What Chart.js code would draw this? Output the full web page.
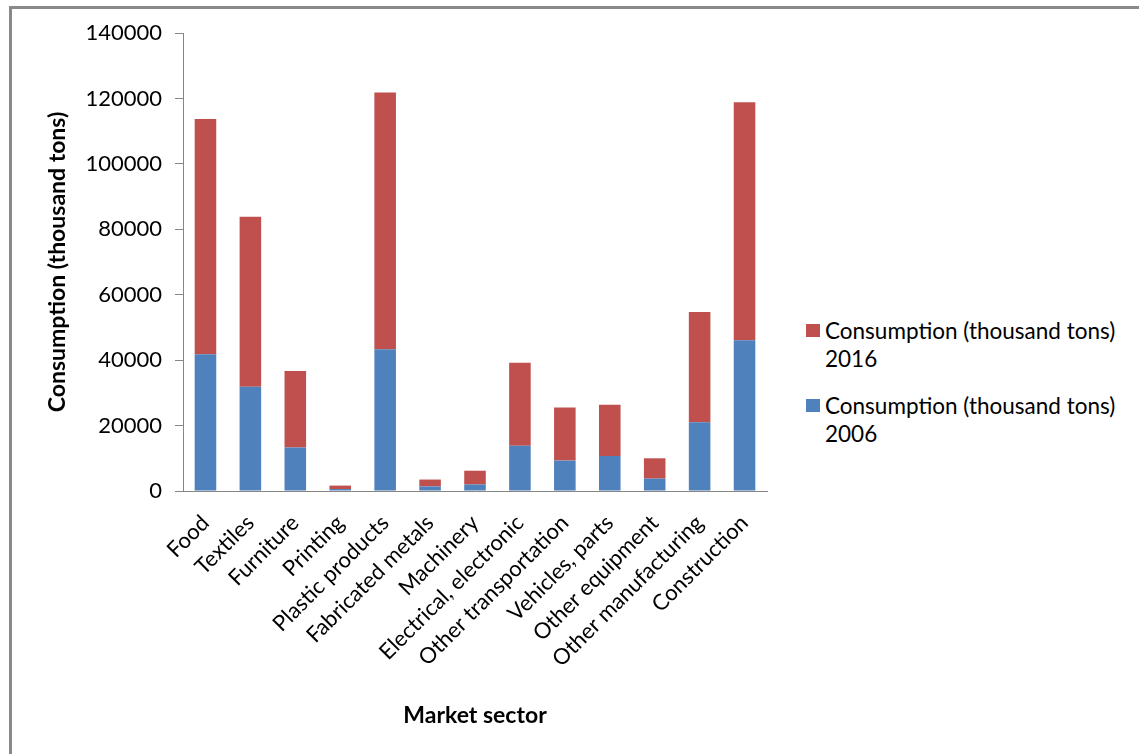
<!DOCTYPE html>
<html>
<head>
<meta charset="utf-8">
<script src="https://cdn.jsdelivr.net/npm/chart.js@4.4.1/dist/chart.umd.min.js"></script>
<style>
  body { margin: 0; background: #fff; overflow: hidden; }
  #frame { position: absolute; left: 9px; top: 6px; width: 1200px; height: 800px; border: 3px solid #898989; }
  #wrap { position: absolute; left: 0; top: 0; width: 800px; height: 754px; }
  .item { position: absolute; left: 806px; font-family: Lato, sans-serif; font-size: 22.5px; line-height: 28px; color: #000; }
  .item span { position: absolute; left: 0; top: 7px; width: 14px; height: 13px; }
  .item div { margin-left: 19px; white-space: nowrap; }
</style>
</head>
<body>
<div id="frame"></div>
<div id="wrap"><canvas id="myChart"></canvas></div>
<div id="legend"></div>
<script>
const sectors = ['Food', 'Textiles', 'Furniture', 'Printing', 'Plastic products', 'Fabricated metals',
  'Machinery', 'Electrical, electronic', 'Other transportation', 'Vehicles, parts',
  'Other equipment', 'Other manufacturing', 'Construction'];
const cons2006 = [41800, 31900, 13300, 600, 43300, 1400, 2000, 13800, 9300, 10700, 3800, 21000, 46100];
const cons2016 = [71900, 51900, 23400, 1050, 78500, 2100, 4200, 25400, 16200, 15700, 6200, 33700, 72700];
const seriesName = 'Consumption (thousand tons)';
const years = ['2006', '2016'];

const blue = '#4F81BD';
const red = '#C0504D';
const axisGray = '#868686';
const font = 'Lato';

// legend (2016 on top like the original)
const legendItems = [
  { year: years[1], color: red, top: 317 },
  { year: years[0], color: blue, top: 392 },
];
document.getElementById('legend').innerHTML = legendItems
  .map((it) => '<div class="item" style="top:' + it.top + 'px"><span style="background:' + it.color +
    '"></span><div>' + seriesName + '<br>' + it.year + '</div></div>')
  .join('');

const data = {
  labels: sectors,
  datasets: [
    { label: seriesName + ' ' + years[0], data: cons2006, backgroundColor: blue },
    { label: seriesName + ' ' + years[1], data: cons2016, backgroundColor: red },
  ],
};

const config = {
  type: 'bar',
  data: data,
  options: {
    responsive: true,
    maintainAspectRatio: false,
    animation: false,
    layout: { padding: { top: 33, right: 33, left: 0, bottom: 0 } },
    datasets: { bar: { barPercentage: 0.48, categoryPercentage: 1, borderWidth: 0 } },
    plugins: { legend: { display: false }, tooltip: { enabled: false } },
    scales: {
      x: {
        stacked: true,
        grid: { display: false, drawTicks: false },
        border: { display: true, color: axisGray, width: 1 },
        ticks: { color: '#000', font: { family: font, size: 22 }, minRotation: 45, maxRotation: 45, padding: 19, autoSkip: false },
        title: { display: true, text: 'Market sector', color: '#000', font: { family: font, size: 23, weight: 'bold' }, padding: { top: 0, bottom: 25 } },
        afterFit: (scale) => { scale.height = 263; },
      },
      y: {
        stacked: true,
        min: 0,
        max: 140000,
        grid: { drawOnChartArea: false, drawTicks: true, tickLength: 8, color: axisGray },
        border: { display: true, color: axisGray, width: 1 },
        ticks: { stepSize: 20000, color: '#000', font: { family: font, size: 22 }, padding: 13, callback: (v) => String(v) },
        title: { display: true, text: seriesName, color: '#000', font: { family: font, size: 23, weight: 'bold' }, padding: { top: 44, bottom: 0 } },
        afterFit: (scale) => { scale.width = 183; },
      },
    },
  },
};

const myChart = new Chart(document.getElementById('myChart'), config);
</script>
</body>
</html>
